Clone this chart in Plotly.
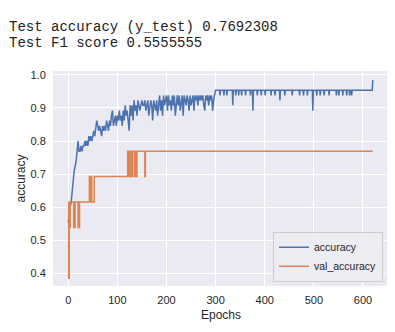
import plotly.graph_objects as go

# training accuracy (noisy part every 2 epochs, then the plateau with its dips)
acc_epochs = [
    0, 2, 4, 6, 8, 10, 12, 14, 16, 18, 20, 22, 24, 26, 28, 30, 32, 34, 36, 38,
    40, 42, 44, 46, 48, 50, 52, 54, 56, 58, 60, 62, 64, 66, 68, 70, 72, 74, 76, 78,
    80, 82, 84, 86, 88, 90, 92, 94, 96, 98, 100, 102, 104, 106, 108, 110, 112, 114, 116, 118,
    120, 122, 124, 126, 128, 130, 132, 134, 136, 138, 140, 142, 144, 146, 148, 150, 152, 154, 156, 158,
    160, 162, 164, 166, 168, 170, 172, 174, 176, 178, 180, 182, 184, 186, 188, 190, 192, 194, 196, 198,
    200, 202, 204, 206, 208, 210, 212, 214, 216, 218, 220, 222, 224, 226, 228, 230, 232, 234, 236, 238,
    240, 242, 244, 246, 248, 250, 252, 254, 256, 258, 260, 262, 264, 266, 268, 270, 272, 274, 276, 278,
    280, 282, 284, 286, 288, 290, 292, 294, 296, 298, 300,
    308, 309, 310, 316, 317, 318, 322, 323, 324, 334, 335, 336, 340, 341, 342,
    346, 347, 348, 352, 353, 354, 360, 361, 362, 370, 371, 372, 375, 376, 377,
    384, 385, 386, 392, 393, 394, 400, 401, 402, 412, 413, 414, 420, 421, 422,
    430, 431, 432, 440, 441, 442, 455, 456, 457, 470, 471, 472, 478, 479, 480,
    486, 487, 488, 497, 498, 499, 505, 506, 507, 512, 513, 514, 520, 521, 522,
    530, 531, 532, 545, 546, 547, 550, 551, 552, 558, 559, 560, 566, 567, 568,
    572, 573, 574, 576, 577, 578, 619, 620,
]
acc_values = [
    0.554, 0.585, 0.600, 0.615, 0.646, 0.692, 0.708, 0.723, 0.738, 0.769,
    0.800, 0.769, 0.769, 0.785, 0.769, 0.785, 0.785, 0.800, 0.785, 0.800,
    0.785, 0.815, 0.800, 0.815, 0.800, 0.815, 0.831, 0.815, 0.846, 0.862,
    0.846, 0.831, 0.846, 0.831, 0.815, 0.846, 0.831, 0.846, 0.831, 0.862,
    0.846, 0.831, 0.862, 0.846, 0.877, 0.892, 0.846, 0.862, 0.877, 0.846,
    0.877, 0.862, 0.892, 0.862, 0.877, 0.846, 0.892, 0.862, 0.908, 0.877,
    0.892, 0.862, 0.831, 0.908, 0.877, 0.908, 0.862, 0.923, 0.892, 0.908,
    0.877, 0.923, 0.908, 0.892, 0.908, 0.923, 0.908, 0.908, 0.923, 0.892,
    0.908, 0.923, 0.877, 0.908, 0.923, 0.908, 0.862, 0.923, 0.908, 0.892,
    0.923, 0.877, 0.908, 0.938, 0.892, 0.923, 0.877, 0.938, 0.908, 0.923,
    0.938, 0.892, 0.938, 0.908, 0.923, 0.892, 0.938, 0.908, 0.938, 0.877,
    0.923, 0.938, 0.908, 0.938, 0.892, 0.923, 0.938, 0.877, 0.938, 0.923,
    0.908, 0.938, 0.923, 0.892, 0.938, 0.908, 0.923, 0.938, 0.892, 0.938,
    0.923, 0.938, 0.908, 0.938, 0.923, 0.938, 0.923, 0.938, 0.908, 0.892,
    0.938, 0.923, 0.938, 0.908, 0.938, 0.923, 0.938, 0.892, 0.923, 0.938, 0.954,
    0.954, 0.938, 0.954, 0.954, 0.938, 0.954, 0.954, 0.938, 0.954, 0.954, 0.908, 0.954, 0.954, 0.938, 0.954,
    0.954, 0.938, 0.954, 0.954, 0.938, 0.954, 0.954, 0.938, 0.954, 0.954, 0.938, 0.954, 0.954, 0.892, 0.954,
    0.954, 0.938, 0.954, 0.954, 0.938, 0.954, 0.954, 0.938, 0.954, 0.954, 0.938, 0.954, 0.954, 0.938, 0.954,
    0.954, 0.923, 0.954, 0.954, 0.938, 0.954, 0.954, 0.938, 0.954, 0.954, 0.938, 0.954, 0.954, 0.938, 0.954,
    0.954, 0.938, 0.954, 0.954, 0.892, 0.954, 0.954, 0.938, 0.954, 0.954, 0.938, 0.954, 0.954, 0.938, 0.954,
    0.954, 0.938, 0.954, 0.954, 0.938, 0.954, 0.954, 0.938, 0.954, 0.954, 0.938, 0.954, 0.954, 0.938, 0.954,
    0.954, 0.938, 0.954, 0.954, 0.938, 0.954, 0.954, 0.985,
]

# validation accuracy only changes at a few epochs (13 validation samples)
val_epochs = [0, 1, 2, 3, 4, 11, 12, 13, 14, 20, 21, 22, 23, 43, 44, 47, 48, 53,
              121, 122, 125, 126, 127, 130, 131, 135, 136, 137, 140, 156, 157, 620]
val_values = [0.6153846, 0.3846154, 0.6153846, 0.5384615, 0.6153846, 0.5384615,
              0.6153846, 0.5384615, 0.6153846, 0.5384615, 0.6153846, 0.5384615,
              0.6153846, 0.6923077, 0.6153846, 0.6923077, 0.6153846, 0.6923077,
              0.7692308, 0.6923077, 0.7692308, 0.6923077, 0.7692308, 0.6923077,
              0.7692308, 0.6923077, 0.7692308, 0.6923077, 0.7692308, 0.6923077,
              0.7692308, 0.7692308]

header_lines = ["Test accuracy (y_test) 0.7692308", "Test F1 score 0.5555555"]
y_ticks = [0.4, 0.5, 0.6, 0.7, 0.8, 0.9, 1.0]
x_ticks = [0, 100, 200, 300, 400, 500, 600]

# the page body has an 8px margin, so the figure is 8px smaller and every
# position below is the reference pixel minus 8
W, H = 387, 324
L, R, T, B = 45, 380, 63, 278


def px_to_paper(x, y):
    return (x - L) / (R - L), (B - y) / (B - T)


fig = go.Figure()
fig.add_trace(go.Scatter(x=acc_epochs, y=acc_values, mode="lines", name="accuracy",
                         line=dict(color="#4C72B0", width=1.5)))
fig.add_trace(go.Scatter(x=val_epochs, y=val_values, mode="lines", name="val_accuracy",
                         line=dict(color="#DD8452", width=1.5, shape="hv")))

axis_style = dict(
    showline=False,
    zeroline=False,
    showgrid=True,
    gridcolor="white",
    gridwidth=1,
    ticks="outside",
    ticklen=4,
    tickcolor="rgba(0,0,0,0)",
    automargin=False,
    tickfont=dict(family="Liberation Sans, Arial", size=11, color="#262626"),
)

fig.update_layout(
    width=W,
    height=H,
    margin=dict(l=L, r=W - R, t=T, b=H - B),
    paper_bgcolor="white",
    plot_bgcolor="#EAEAF2",
    font=dict(family="Liberation Sans, Arial", color="#262626"),
    xaxis=dict(axis_style, range=[-31, 651], tickvals=x_ticks),
    yaxis=dict(axis_style, range=[0.361, 1.012], tickvals=y_ticks, tickformat=".1f"),
    legend=dict(
        x=0.985, y=0.02, xanchor="right", yanchor="bottom",
        bgcolor="rgba(236,236,243,0.9)", bordercolor="#CCCCCC", borderwidth=1,
        font=dict(size=10.5, color="#262626"),
        itemwidth=30,
    ),
)

# axis titles
x, y = px_to_paper((L + R) / 2, 307)
fig.add_annotation(x=x, y=y, xref="paper", yref="paper", text="Epochs", showarrow=False,
                   xanchor="center", yanchor="middle", font=dict(size=12, color="#262626"))
x, y = px_to_paper(12, (T + B) / 2)
fig.add_annotation(x=x, y=y, xref="paper", yref="paper", text="accuracy", showarrow=False,
                   textangle=-90, xanchor="center", yanchor="middle",
                   font=dict(size=12, color="#262626"))

# printed output above the chart
for i, line in enumerate(header_lines):
    x, y = px_to_paper(-1, 19 + 16 * i)
    fig.add_annotation(
        x=x, y=y, xref="paper", yref="paper",
        text=line, showarrow=False, xanchor="left", yanchor="middle",
        font=dict(family="Liberation Mono, Courier New", size=14, color="#222222"),
    )

fig.write_html("out.html")
